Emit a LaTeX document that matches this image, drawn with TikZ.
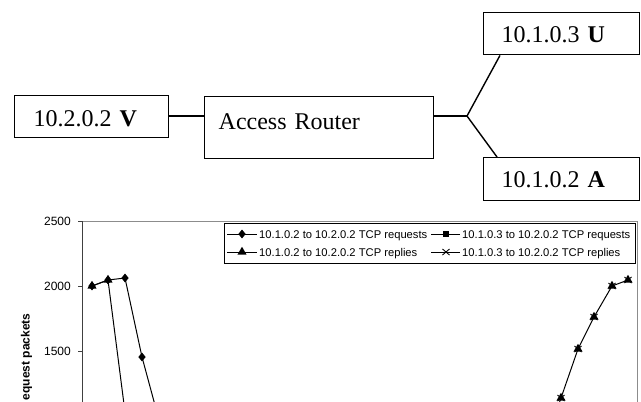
\documentclass[tikz,border=0pt]{standalone}
\usepackage{fontspec}
\setmainfont{Liberation Serif}
\newfontfamily\arialf{Liberation Sans}
\usetikzlibrary{shapes.geometric}
\tikzset{
  nbox/.style={draw=black, line width=1.4pt, anchor=north west, inner ysep=0pt, align=left,
    font=\fontsize{24}{28}\selectfont},
  wire/.style={line width=1.4pt},
  dataline/.style={line width=1pt, black},
  mkd/.style={diamond, fill=black, inner sep=0pt, minimum width=7.5pt, minimum height=9pt},
  mkt/.style={regular polygon, regular polygon sides=3, fill=black, inner sep=0pt, minimum size=10.5pt},
  mks/.style={rectangle, fill=black, inner sep=0pt, minimum size=6pt},
  ticklab/.style={anchor=east, inner sep=0pt, font=\arialf\fontsize{12}{14}\selectfont},
  legtext/.style={anchor=base west, inner sep=0pt, font=\arialf\fontsize{11.2}{13}\selectfont},
  frameline/.style={line width=1pt, black!45},
  axisline/.style={line width=1pt, black!75},
}
\newcommand{\xmark}[1]{\draw[line width=0.9pt] ([shift={(-3.5,-3)}]#1) -- ([shift={(3.5,3)}]#1) ([shift={(-3.5,3)}]#1) -- ([shift={(3.5,-3)}]#1);}
\begin{document}
\begin{tikzpicture}[x=1pt,y=-1pt]
\useasboundingbox[fill=white] (0,0) rectangle (641,402);

% ---------- network diagram ----------
\node[nbox, text width=116pt, inner xsep=19pt, minimum height=42pt, text height=20pt, text depth=0pt]
  (V) at (14,95) {10.2.0.2 \textbf{V}};
\node[nbox, text width=201pt, inner xsep=14pt, minimum height=62pt, text height=16pt, text depth=12pt]
  (R) at (204,96) {Access Router};
\node[nbox, text width=120pt, inner xsep=18pt, minimum height=42pt, text height=17pt, text depth=0pt]
  (U) at (483,12) {10.1.0.3 \textbf{U}};
\node[nbox, text width=120pt, inner xsep=18pt, minimum height=43pt, text height=17pt, text depth=0pt]
  (A) at (483,157) {10.1.0.2 \textbf{A}};
\coordinate (br) at (467,116);
\draw[wire] (V.east |- 0,116) -- (R.west |- 0,116);
\draw[wire] (R.east |- 0,116) -- (br);
\draw[wire] (br) -- ([xshift=17pt]U.south west);
\draw[wire] (br) -- ([xshift=14pt]A.north west);

% ---------- chart ----------
\begin{scope}
\clip (0,0) rectangle (641,402);
\draw[frameline] (82,221) -- (637,221) -- (637,410);
\draw[axisline] (82,221) -- (82,410);
\foreach \yy/\lab in {221/2500, 286/2000, 351/1500} {
  \draw[axisline] (78,\yy) -- (82,\yy);
  \node[ticklab] (t\lab) at (71,\yy) {\lab};
}
\node[rotate=90, anchor=west, inner sep=0pt, font=\arialf\bfseries\fontsize{12}{14}\selectfont]
  (ylab) at (26.5,400.5) {equest packets};

% data lines
\draw[dataline] (92,286) -- (108,280) -- (125,278) -- (142,357) -- (159,420);
\draw[dataline] (92,286) -- (108,280) -- (125,412);
\draw[dataline] (544,447) -- (561,398) -- (578,349) -- (594,317) -- (612,286) -- (628,280);
% markers
\foreach \px/\py [count=\i] in {92/286, 108/280, 125/278, 142/357} {
  \node[mkd] (d\i) at (\px,\py) {};
}
\foreach \px/\py [count=\i] in {92/286, 108/280} {
  \node[mkt] (ta\i) at (\px,\py) {};
}
\foreach \px/\py [count=\i] in {561/398, 578/349, 594/317, 612/286, 628/280} {
  \coordinate (xr\i) at (\px,\py);
  \xmark{xr\i}
  \node[mkt] (tb\i) at (\px,\py) {};
}

% legend
\node[draw=black, line width=1pt, fill=white, anchor=north west, inner sep=0pt,
  minimum width=411pt, minimum height=40pt] (leg) at (224,223) {};
\coordinate (l1a) at (227,234); \coordinate (l1b) at (257,234);
\coordinate (l2a) at (227,252); \coordinate (l2b) at (257,252);
\coordinate (l3a) at (431,234); \coordinate (l3b) at (460,234);
\coordinate (l4a) at (431,252); \coordinate (l4b) at (460,252);
\draw[dataline] (l1a) -- (l1b);
\draw[dataline] (l2a) -- (l2b);
\draw[dataline] (l3a) -- (l3b);
\draw[dataline] (l4a) -- (l4b);
\node[mkd] (ld1) at (242,234) {};
\node[mkt] (ld2) at (242,252) {};
\node[mks] (ld3) at (446,234) {};
\coordinate (ld4) at (446,252);
\xmark{ld4}
\node[legtext] (lt1) at (259,238) {10.1.0.2 to 10.2.0.2 TCP requests};
\node[legtext] (lt2) at (259,256) {10.1.0.2 to 10.2.0.2 TCP replies};
\node[legtext] (lt3) at (462,238) {10.1.0.3 to 10.2.0.2 TCP requests};
\node[legtext] (lt4) at (462,256) {10.1.0.3 to 10.2.0.2 TCP replies};
\end{scope}
\end{tikzpicture}
\end{document}
